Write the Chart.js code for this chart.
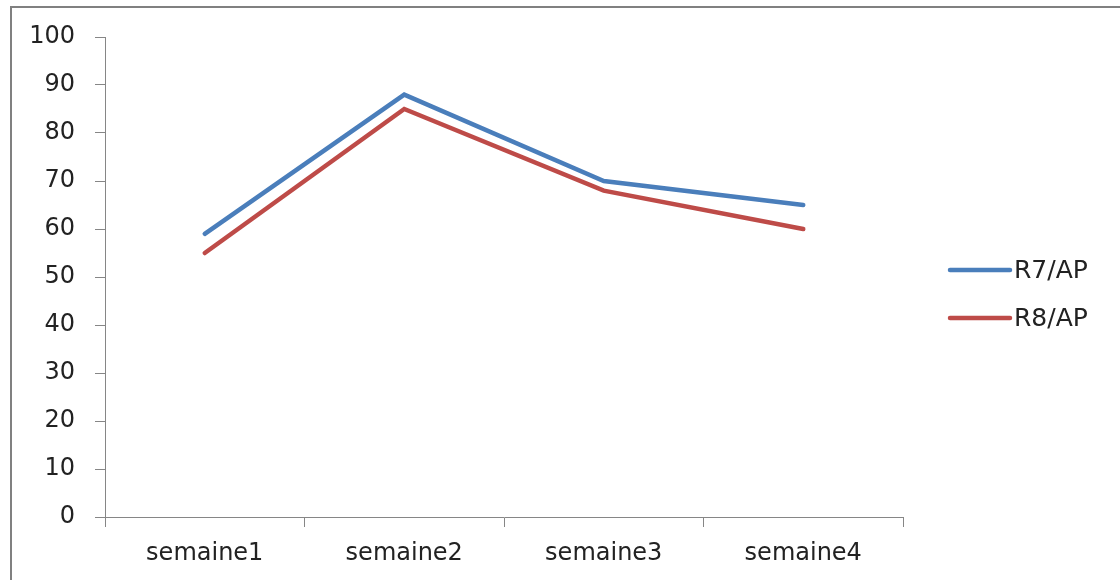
<!DOCTYPE html>
<html>
<head>
<meta charset="utf-8">
<script src="https://cdn.jsdelivr.net/npm/chart.js@4/dist/chart.umd.min.js"></script>
<style>
  html, body { margin: 0; padding: 0; background: #fff; overflow: hidden; }
  #frame {
    position: absolute; left: 10px; top: 6px; width: 1200px; height: 700px;
    border-left: 2px solid #808080; border-top: 2px solid #808080;
  }
  #wrap { position: absolute; left: 0; top: 0; width: 1120px; height: 580px; }
</style>
</head>
<body>
<div id="frame"></div>
<div id="wrap"><canvas id="chart"></canvas></div>
<script>
  const semaines = ["semaine1", "semaine2", "semaine3", "semaine4"];
  const r7ap = [59, 88, 70, 65];
  const r8ap = [55, 85, 68, 60];
  const seriesNames = ["R7/AP", "R8/AP"];
  const seriesColors = ["#4a7ebb", "#be4b48"];

  const fontFamily = "'DejaVu Sans', sans-serif";
  const axisGray = "#868686";

  // legend drawn by hand, to the right of the plot
  const sideLegend = {
    id: "sideLegend",
    afterDraw(chart) {
      const ctx = chart.ctx;
      ctx.save();
      chart.data.datasets.forEach((ds, i) => {
        const y = 270 + i * 48;
        ctx.strokeStyle = ds.borderColor;
        ctx.lineWidth = 4.5;
        ctx.lineCap = "round";
        ctx.beginPath();
        ctx.moveTo(950, y);
        ctx.lineTo(1010, y);
        ctx.stroke();
        ctx.fillStyle = "#222";
        ctx.font = "25px " + fontFamily;
        ctx.textBaseline = "middle";
        ctx.fillText(ds.label, 1014, y + 1);
      });
      ctx.restore();
    }
  };

  new Chart(document.getElementById("chart").getContext("2d"), {
    type: "line",
    data: {
      labels: semaines,
      datasets: [
        { label: seriesNames[0], data: r7ap, borderColor: seriesColors[0], backgroundColor: seriesColors[0] },
        { label: seriesNames[1], data: r8ap, borderColor: seriesColors[1], backgroundColor: seriesColors[1] }
      ]
    },
    options: {
      responsive: true,
      maintainAspectRatio: false,
      animation: false,
      events: [],
      layout: { padding: { top: 37, right: 217, left: 0, bottom: 0 } },
      elements: {
        line: { borderWidth: 4.5, tension: 0, borderCapStyle: "round", borderJoinStyle: "miter" },
        point: { radius: 0 }
      },
      plugins: {
        legend: { display: false },
        tooltip: { enabled: false }
      },
      scales: {
        x: {
          offset: true,
          grid: { offset: true, drawOnChartArea: false, drawTicks: true, tickLength: 10, color: axisGray, lineWidth: 1 },
          border: { display: true, color: axisGray, width: 1 },
          ticks: { color: "#222", font: { family: fontFamily, size: 24 }, padding: 12, maxRotation: 0 },
          afterFit(scale) { scale.height = 63; }
        },
        y: {
          min: 0,
          max: 100,
          grid: { drawOnChartArea: false, drawTicks: true, tickLength: 10, color: axisGray, lineWidth: 1 },
          border: { display: true, color: axisGray, width: 1 },
          ticks: { stepSize: 10, color: "#222", font: { family: fontFamily, size: 24 }, padding: 20 },
          afterFit(scale) { scale.width = 105; }
        }
      }
    },
    plugins: [sideLegend]
  });
</script>
</body>
</html>
